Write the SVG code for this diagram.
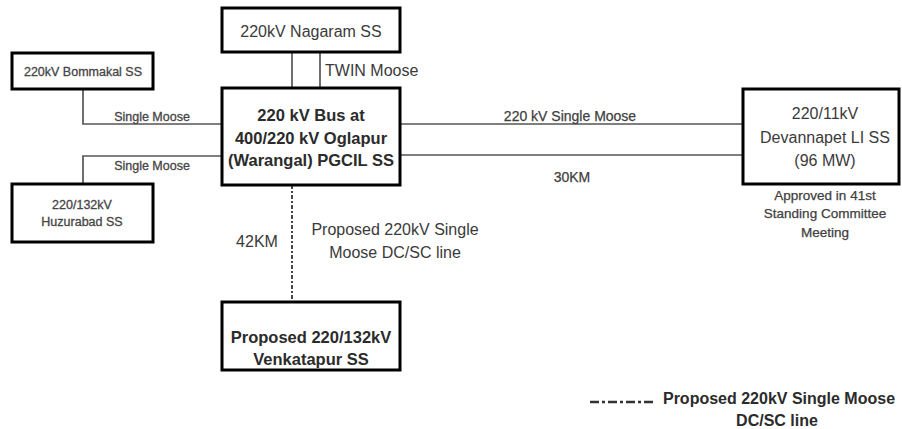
<svg xmlns="http://www.w3.org/2000/svg" width="902" height="429" viewBox="0 0 902 429">
<style>
.box{fill:#fff;stroke:#000;stroke-width:3}
.ln{fill:none;stroke:#555;stroke-width:1.7}
.dash{fill:none;stroke:#444;stroke-width:2;stroke-dasharray:4 2 2 2}
.leg{fill:none;stroke:#333;stroke-width:2.5;stroke-dasharray:9 3 3 3}
text{font-family:"Liberation Sans",Arial,sans-serif;fill:#3a3a3a;text-anchor:middle}
.b{font-weight:bold;fill:#2b2b2b}
.s{font-size:12.5px;fill:#454545;stroke:#454545;stroke-width:0.3}
.m{font-size:14px;fill:#404040;stroke:#404040;stroke-width:0.25}
.n{font-size:16px}
.a{font-size:13.5px;fill:#404040;stroke:#404040;stroke-width:0.25}
</style>
<rect width="902" height="429" fill="#fff"/>
<g id="connectors">
<line class="ln" x1="292" y1="52" x2="292" y2="88"/>
<line class="ln" x1="320" y1="52" x2="320" y2="88"/>
<polyline class="ln" points="83,89 83,124 222,124"/>
<polyline class="ln" points="222,156 83,156 83,184"/>
<line class="ln" x1="400" y1="124" x2="743" y2="124"/>
<line class="ln" x1="400" y1="155" x2="743" y2="155"/>
<line class="dash" x1="292" y1="185" x2="292" y2="302"/>
<text class="n" x="325" y="75.5" style="text-anchor:start">TWIN Moose</text>
<text class="s" x="152" y="120.5">Single Moose</text>
<text class="s" x="152" y="169.5">Single Moose</text>
<text class="m" x="570" y="121">220 kV Single Moose</text>
<text class="m" x="572" y="182">30KM</text>
<text class="n" x="257" y="246.5">42KM</text>
<text class="n" x="395" y="234.5">Proposed 220kV Single</text>
<text class="n" x="395" y="257.5">Moose DC/SC line</text>
</g>
<g id="nagaram">
<rect class="box" x="222" y="8" width="178" height="44"/>
<text class="n" x="311" y="36.5">220kV Nagaram SS</text>
</g>
<g id="bus">
<rect class="box" x="222" y="88" width="178" height="97"/>
<text class="b" x="311" y="121" font-size="16.5">220 kV Bus at</text>
<text class="b" x="311" y="144" font-size="16.5">400/220 kV Oglapur</text>
<text class="b" x="311" y="166" font-size="16.5">(Warangal) PGCIL SS</text>
</g>
<g id="bommakal">
<rect class="box" x="12" y="53" width="141" height="36"/>
<text class="s" x="83" y="75.5">220kV Bommakal SS</text>
</g>
<g id="huzurabad">
<rect class="box" x="12" y="184" width="141" height="58"/>
<text class="s" x="82" y="208.5">220/132kV</text>
<text class="s" x="82" y="225.5">Huzurabad SS</text>
</g>
<g id="devannapet">
<rect class="box" x="743" y="89" width="156" height="95"/>
<text class="n" x="825" y="118.5">220/11kV</text>
<text class="n" x="825" y="142.5">Devannapet LI SS</text>
<text class="n" x="825" y="165.5">(96 MW)</text>
<text class="a" x="825" y="199.7">Approved in 41st</text>
<text class="a" x="825" y="217.7">Standing Committee</text>
<text class="a" x="825" y="236.7">Meeting</text>
</g>
<g id="venkatapur">
<rect class="box" x="222" y="302" width="178" height="68"/>
<text class="b" x="311" y="342.8" font-size="16.5">Proposed 220/132kV</text>
<text class="b" x="311" y="364.8" font-size="16.5">Venkatapur SS</text>
</g>
<g id="legend">
<line class="leg" x1="590" y1="402" x2="653" y2="402"/>
<text class="b" x="779" y="403.6" font-size="16">Proposed 220kV Single Moose</text>
<text class="b" x="777" y="425.6" font-size="16">DC/SC line</text>
</g>
</svg>
